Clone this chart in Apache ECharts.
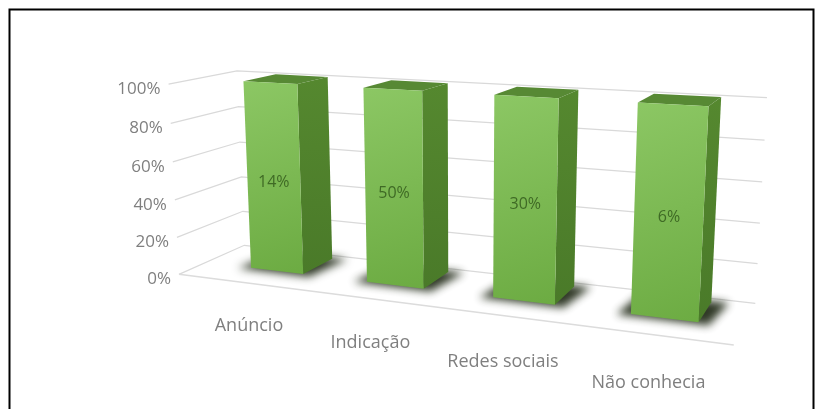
<!DOCTYPE html>
<html>
<head>
<meta charset="utf-8">
<script src="https://cdn.jsdelivr.net/npm/echarts@6/dist/echarts.min.js"></script>
<style>
  html, body { margin: 0; padding: 0; background: #ffffff; }
  #chart { width: 816px; height: 409px; }
</style>
</head>
<body>
<div id="chart"></div>
<script>
// ---- data -------------------------------------------------------------
const categories = ['Anúncio', 'Indicação', 'Redes sociais', 'Não conhecia'];
const shares = [14, 50, 30, 6];                 // % of respondents
const percentTicks = [0, 20, 40, 60, 80, 100];
const tickLabels = ['0%', '20%', '40%', '60%', '80%', '100%'];

// 100% stacked columns with a single series: each column is its share of
// the category's stack total
const stackTotals = shares.map(v => v);
const stackedHeights = shares.map((v, i) => v / stackTotals[i] * 100);

// ---- 3D view ----------------------------------------------------------
const camera = { yaw: 22, pitch: 12.5, focal: 1170, distance: 1136, cx: 463, cy: 192 };
// floor runs from floorFront to wallBack in depth; columns sit between barFront and barBack
const box = { floorFront: -62, wallBack: 62, barFront: -13, barBack: 50, barWidth: 0.46 };
const floorSpan = [-0.64, 3.52];   // x-axis extent of the floor, in category units
const font = '"Open Sans", "DejaVu Sans", sans-serif';
const rad = d => d * Math.PI / 180;

// world: x across the floor (0 = middle category), y up from the floor, z into the page
function project(x, y, z, height) {
  const cy = Math.cos(rad(camera.yaw)), sy = Math.sin(rad(camera.yaw));
  const cp = Math.cos(rad(camera.pitch)), sp = Math.sin(rad(camera.pitch));
  const x1 = x * cy + z * sy;
  const z1 = -x * sy + z * cy;
  const yc = y - height / 2;
  const y2 = yc * cp + z1 * sp;
  const z2 = -yc * sp + z1 * cp;
  const s = camera.focal / (camera.distance + z2);
  return [camera.cx + x1 * s, camera.cy - y2 * s];
}

// pixel position on the flat grid -> world x / y
function worldOf(params, api, pt) {
  const cs = params.coordSys;
  const mid = api.coord([(categories.length - 1) / 2, 0])[0];
  return [pt[0] - mid, cs.y + cs.height - pt[1]];
}

// walls: one gridline per tick, side wall then back wall, with its label
function gridItem(params, api) {
  const h = params.coordSys.height;
  const y = worldOf(params, api, api.coord([0, api.value(1)]))[1];
  const xl = worldOf(params, api, api.coord([floorSpan[0], 0]))[0];
  const xr = worldOf(params, api, api.coord([floorSpan[1], 0]))[0];
  const a = project(xl, y, box.floorFront, h);
  const b = project(xl, y, box.wallBack, h);
  const c = project(xr, y, box.wallBack, h);
  return {
    type: 'group',
    children: [
      { type: 'polyline', shape: { points: [a, b, c] },
        style: { stroke: '#d9d9d9', lineWidth: 1.2, fill: null } },
      { type: 'text', x: a[0] - 8, y: a[1] + 5,
        style: { text: tickLabels[params.dataIndex], fill: '#7f7f7f', font: '17px ' + font,
                 align: 'right', verticalAlign: 'middle' } }
    ]
  };
}

function floorItem(params, api) {
  const h = params.coordSys.height;
  const xl = worldOf(params, api, api.coord([floorSpan[0], 0]))[0];
  const xr = worldOf(params, api, api.coord([floorSpan[1], 0]))[0];
  const fl = project(xl, 0, box.floorFront, h), fr = project(xr, 0, box.floorFront, h);
  return { type: 'line', shape: { x1: fl[0], y1: fl[1], x2: fr[0], y2: fr[1] },
           style: { stroke: '#dcdcdc', lineWidth: 1.5 } };
}

function barItem(params, api) {
  const h = params.coordSys.height;
  const idx = api.value(0);
  const [xc, y0] = worldOf(params, api, api.coord([idx, 0]));
  const y1 = worldOf(params, api, api.coord([idx, api.value(1)]))[1];
  const half = api.size([1, 0])[0] * box.barWidth / 2;
  const xl = xc - half, xr = xc + half, zf = box.barFront, zb = box.barBack;
  const P = (x, y, z) => project(x, y, z, h);
  const fbl = P(xl, y0, zf), fbr = P(xr, y0, zf), ftl = P(xl, y1, zf), ftr = P(xr, y1, zf);
  const bbr = P(xr, y0, zb), btr = P(xr, y1, zb), btl = P(xl, y1, zb);
  // soft contact shadow on the floor (only the blurred shadow shows)
  const off = 2000;
  const foot = [P(xl - 12, y0, zf - 6), P(xr + 10, y0, zf - 6), P(xr + 16, y0, zb + 4), P(xl - 6, y0, zb + 4)]
    .map(p => [p[0] + off, p[1]]);
  const mid = [(fbl[0] + fbr[0] + ftl[0] + ftr[0]) / 4, (fbl[1] + fbr[1] + ftl[1] + ftr[1]) / 4];
  return {
    type: 'group',
    children: [
      { type: 'polygon', shape: { points: foot },
        style: { fill: 'rgba(25,35,15,0.95)', shadowColor: 'rgba(25,35,15,0.95)',
                 shadowBlur: 9, shadowOffsetX: -off } },
      { type: 'polygon', shape: { points: [fbr, bbr, btr, ftr] },
        style: { fill: new echarts.graphic.LinearGradient(0, 0, 0, 1, [
          { offset: 0, color: '#55882f' }, { offset: 1, color: '#4a7a29' }]) } },
      { type: 'polygon', shape: { points: [ftl, ftr, btr, btl] },
        style: { fill: '#578934' } },
      { type: 'polygon', shape: { points: [fbl, fbr, ftr, ftl] },
        style: { fill: new echarts.graphic.LinearGradient(0, 0, 1, 1, [
          { offset: 0, color: '#8cc764' }, { offset: 1, color: '#6cab42' }]) } },
      { type: 'text', x: mid[0], y: mid[1] + 6,
        style: { text: shares[params.dataIndex] + '%', fill: '#3f6a25', font: '16px ' + font,
                 align: 'center', verticalAlign: 'middle' } }
    ]
  };
}

function categoryItem(params, api) {
  const h = params.coordSys.height;
  const xc = worldOf(params, api, api.coord([api.value(0), 0]))[0];
  const p = project(xc, -42, -70, h);
  return { type: 'text', x: p[0], y: p[1],
           style: { text: categories[params.dataIndex], fill: '#7f7f7f', font: '18px ' + font,
                    align: 'center', verticalAlign: 'middle' } };
}

const chart = echarts.init(document.getElementById('chart'), null, { renderer: 'canvas' });
chart.setOption({
  animation: false,
  backgroundColor: '#ffffff',
  grid: { left: 20, top: 20, width: 566, height: 197 },
  xAxis: { type: 'value', min: floorSpan[0], max: floorSpan[1], show: false },
  yAxis: { type: 'value', min: 0, max: 100, interval: 20, show: false },
  graphic: [{ type: 'rect', left: 7, top: 7, shape: { width: 804, height: 420 },
              style: { fill: 'none', stroke: '#000000', lineWidth: 2 }, z: 100 }],
  series: [
    { type: 'custom', name: 'walls', clip: false, renderItem: gridItem,
      data: percentTicks.map(t => [0, t]) },
    { type: 'custom', name: 'floor', clip: false, renderItem: floorItem, data: [[0, 0]] },
    { type: 'custom', name: 'share', clip: false, renderItem: barItem,
      data: stackedHeights.map((h, i) => [i, h]) },
    { type: 'custom', name: 'categories', clip: false, renderItem: categoryItem,
      data: categories.map((c, i) => [i, 0]) }
  ]
});
</script>
</body>
</html>
